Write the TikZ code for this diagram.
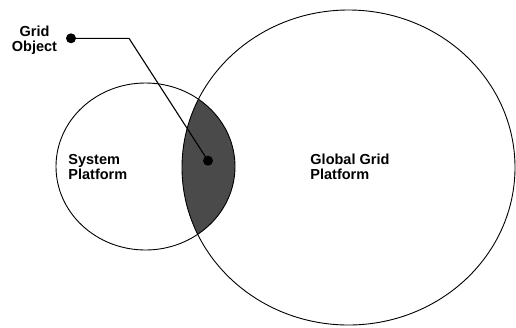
\documentclass[tikz,border=0pt]{standalone}
\usepackage{fontspec}
\setmainfont{Liberation Sans}
\definecolor{lensgray}{HTML}{4A4A4A}
\tikzset{
  dot/.style={circle,fill=black,inner sep=0pt,minimum size=10pt},
  lbl/.style={font=\bfseries\fontsize{14.5}{15.5}\selectfont,inner sep=0pt}
}
\begin{document}
\begin{tikzpicture}[x=1pt,y=-1pt,line width=0.9pt]

        \useasboundingbox (0,0) rectangle (516,327);

        \begin{scope}
          \clip (348.5,167.5) ellipse (166.5 and 157.5);
          \fill[lensgray] (145.5,166.5) ellipse (89.5 and 83.5);
        \end{scope}

        \draw (145.5,166.5) ellipse (89.5 and 83.5);
        \draw (348.5,167.5) ellipse (166.5 and 157.5);

        \node[lbl,align=center] (gridobj) at (34.5,40) {Grid\\Object};
        \node[lbl,align=left,anchor=west] (syspf) at (68,167) {System\\Platform};
        \node[lbl,align=left,anchor=west] (globpf) at (310,167) {Global Grid\\Platform};

        \node[dot] (objdot) at (71,38.3) {};
        \node[dot] (lensdot) at (208,160.7) {};
        \coordinate (bend) at (129,38.3);

        \draw[line width=1.1pt] (objdot.center) -- (bend) -- (lensdot.center);
      \end{tikzpicture}
\end{document}
